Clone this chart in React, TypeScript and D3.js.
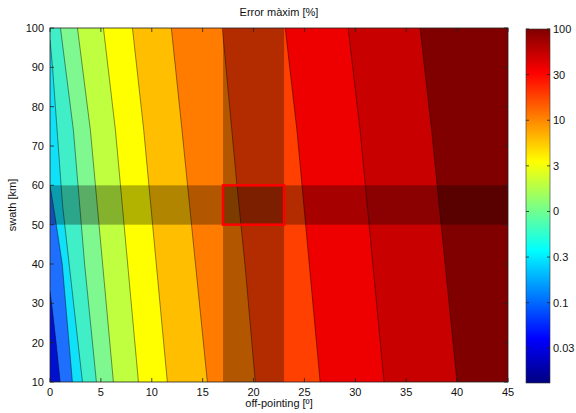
import React from 'react'
import * as d3 from 'd3'

// axis ticks
const offTicks = [0, 5, 10, 15, 20, 25, 30, 35, 40, 45]
const swathTicks = [10, 20, 30, 40, 50, 60, 70, 80, 90, 100]

// colorbar labels, bottom to top (evenly spaced in the bar)
const cbarLabels = ['0.03', '0.1', '0.3', '0', '3', '10', '30', '100']

// filled contour band colours, left (low) to right (high)
const bandColors = [
  '#0010d0', '#1f6fff', '#10e0f8', '#40eec8', '#80f890', '#bfff40', '#ffff00',
  '#ffbf00', '#ff7c00', '#ff4000', '#ee0000', '#c80000', '#800000',
]

// contour boundaries as [off-pointing, swath], starting at swath 10 going up
const bDarkBlueBlue = [[1.0, 10], [0.6, 20], [0.25, 28], [0, 33]]
const bBlueCyan = [[2.2, 10], [1.7, 25], [1.2, 40], [0.5, 52], [0, 60]]
const bCyanTeal = [[3.19, 10], [2.1, 35], [1.23, 55], [0.25, 90], [0, 97]]
const bTealGreen = [[4.56, 10], [3.4, 40], [2.3, 74], [1.03, 100]]
const bGreenYellowGreen = [[6.23, 10], [5.17, 40], [3.97, 74], [2.7, 100]]
const bYellowGreenYellow = [[8.69, 10], [6.43, 74], [5.25, 100]]
const bYellowOrangeYellow = [[11.53, 10], [9.21, 74], [8.1, 100]]
const bOrangeYellowOrange = [[15.46, 10], [12.97, 74], [11.92, 100]]
const bOrangeOrangeRed = [[20.17, 10], [19.19, 39], [18.37, 60], [16.93, 100]]
const bOrangeRedRed = [[26.54, 10], [24.26, 74], [23.11, 100]]
const bRedDarker = [[32.82, 10], [30.47, 74], [29.29, 100]]
const bDarkerDark = [[39.99, 10], [37.5, 74], [36.36, 100]]

const boundaries = [
  bDarkBlueBlue, bBlueCyan, bCyanTeal, bTealGreen, bGreenYellowGreen, bYellowGreenYellow,
  bYellowOrangeYellow, bOrangeYellowOrange, bOrangeOrangeRed, bOrangeRedRed, bRedDarker, bDarkerDark,
]

// shaded stripes and highlighted box
const offStripe = [17, 23]
const swathStripe = [50, 60]

const W = 576, H = 413
const left = 50, right = 508, top = 28, bottom = 382
const font = 'Liberation Sans, Arial, sans-serif'

export default function App() {
  const x = d3.scaleLinear().domain([0, 45]).range([left, right])
  const y = d3.scaleLinear().domain([10, 100]).range([bottom, top])
  const line = d3.line<number[]>().x(d => x(d[0])).y(d => y(d[1]))

  const region = (b: number[][]) => {
    const pts = b.slice()
    const last = pts[pts.length - 1]
    if (last[1] < 100) pts.push([0, 100])
    pts.push([45, 100], [45, 10])
    return line(pts) + 'Z'
  }

  // colorbar
  const cbX0 = 526, cbX1 = 550
  const cy = d3.scaleLinear().domain([-0.76, 7]).range([383, 29])
  const jet = ['#000080', '#0000ff', '#00ffff', '#ffff00', '#ff0000', '#800000']
  const jetPos = [0, 0.125, 0.375, 0.625, 0.875, 1]

  return (
    <svg width={W} height={H} style={{ position: 'absolute', left: 0, top: 0, background: '#fff' }}>
      <defs>
        <clipPath id="plot">
          <rect x={left} y={top} width={right - left} height={bottom - top} />
        </clipPath>
        <linearGradient id="jet" x1="0" y1="1" x2="0" y2="0">
          {jet.map((c, i) => <stop key={i} offset={jetPos[i]} stopColor={c} />)}
        </linearGradient>
      </defs>

      <g clipPath="url(#plot)">
        <rect x={left} y={top} width={right - left} height={bottom - top} fill={bandColors[0]} />
        {boundaries.map((b, i) => (
          <path key={i} d={region(b)} fill={bandColors[i + 1]} />
        ))}
        {boundaries.map((b, i) => (
          <path key={'l' + i} d={line(b) || ''} fill="none" stroke="#000" strokeOpacity={0.55} strokeWidth={0.8} />
        ))}
        <rect x={x(offStripe[0])} y={top} width={x(offStripe[1]) - x(offStripe[0])} height={bottom - top}
          fill="#000" fillOpacity={0.3} />
        <rect x={left} y={y(swathStripe[1])} width={right - left} height={y(swathStripe[0]) - y(swathStripe[1])}
          fill="#000" fillOpacity={0.3} />
        <rect x={x(offStripe[0])} y={y(swathStripe[1])} width={x(offStripe[1]) - x(offStripe[0])}
          height={y(swathStripe[0]) - y(swathStripe[1])} fill="none" stroke="#ff0000" strokeWidth={2.5} />
      </g>

      <rect x={left} y={top} width={right - left} height={bottom - top} fill="none" stroke="#222" strokeWidth={0.8} />
      {offTicks.map(t => (
        <g key={'x' + t}>
          <line x1={x(t)} x2={x(t)} y1={bottom} y2={bottom - 4} stroke="#222" strokeWidth={0.8} />
          <line x1={x(t)} x2={x(t)} y1={top} y2={top + 4} stroke="#222" strokeWidth={0.8} />
          <text x={x(t)} y={bottom + 14} textAnchor="middle" fontSize={11} fontFamily={font} fill="#111">{t}</text>
        </g>
      ))}
      {swathTicks.map(t => (
        <g key={'y' + t}>
          <line x1={left} x2={left + 4} y1={y(t)} y2={y(t)} stroke="#222" strokeWidth={0.8} />
          <line x1={right} x2={right - 4} y1={y(t)} y2={y(t)} stroke="#222" strokeWidth={0.8} />
          <text x={left - 6} y={y(t) + 4} textAnchor="end" fontSize={11} fontFamily={font} fill="#111">{t}</text>
        </g>
      ))}

      <text x={(left + right) / 2} y={16} textAnchor="middle" fontSize={11} fontFamily={font} fill="#111">Error màxim [%]</text>
      <text x={(left + right) / 2} y={407} textAnchor="middle" fontSize={11} fontFamily={font} fill="#111">off-pointing [º]</text>
      <text transform={`translate(16,${(top + bottom) / 2}) rotate(-90)`} textAnchor="middle" fontSize={11}
        fontFamily={font} fill="#111">swath [km]</text>

      <rect x={cbX0} y={cy(7)} width={cbX1 - cbX0} height={cy(-0.76) - cy(7)} fill="url(#jet)" stroke="#333" strokeWidth={0.6} />
      {cbarLabels.map((l, i) => (
        <g key={'c' + i}>
          <line x1={cbX0} x2={cbX0 + 3} y1={cy(i)} y2={cy(i)} stroke="#222" strokeWidth={0.8} />
          <line x1={cbX1} x2={cbX1 - 3} y1={cy(i)} y2={cy(i)} stroke="#222" strokeWidth={0.8} />
          <text x={cbX1 + 3} y={cy(i) + 4} fontSize={11} fontFamily={font} fill="#111">{l}</text>
        </g>
      ))}
    </svg>
  )
}
